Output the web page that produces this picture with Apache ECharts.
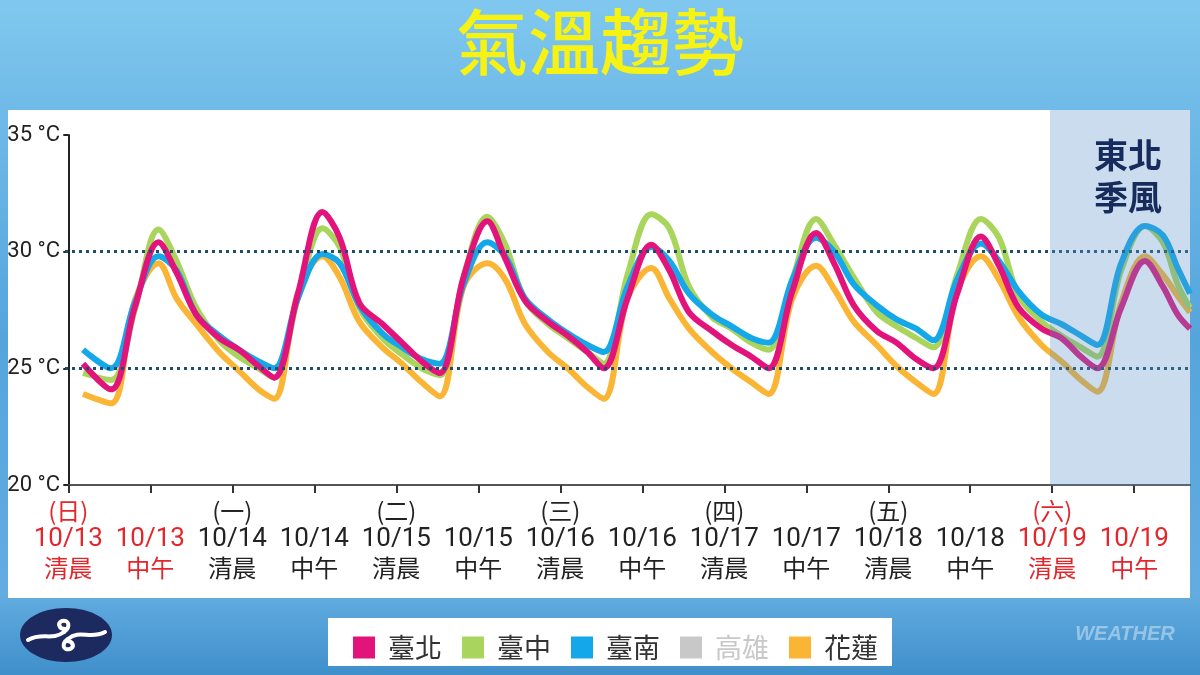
<!DOCTYPE html>
<html>
<head>
<meta charset="utf-8">
<script src="https://cdn.jsdelivr.net/npm/echarts@6/dist/echarts.min.js"></script>
<style>
html,body{margin:0;padding:0;width:1200px;height:675px;overflow:hidden;}
#chart{width:1200px;height:675px;}
</style>
</head>
<body>
<div id="chart"></div>
<script>
// ---- data ----
const weekdays = ['(日)','','(一)','','(二)','','(三)','','(四)','','(五)','','(六)',''];
const dates = ['10/13','10/13','10/14','10/14','10/15','10/15','10/16','10/16','10/17','10/17','10/18','10/18','10/19','10/19'];
const periods = ['清晨','中午','清晨','中午','清晨','中午','清晨','中午','清晨','中午','清晨','中午','清晨','中午'];
const redTicks = [0,1,12,13];
const yTicks = [20,25,30,35];
const refLines = [25,30];

// time positions (in tick units)
const xs = [0.18,
 0.52,0.81,1.10,1.32,1.56,1.84,2.08,2.32,
 2.51,2.80,3.10,3.31,3.55,3.83,4.07,4.31,
 4.53,4.82,5.11,5.33,5.57,5.85,6.09,6.33,
 6.53,6.82,7.11,7.33,7.57,7.85,8.09,8.33,
 8.54,8.83,9.12,9.34,9.58,9.86,10.10,10.34,
 10.55,10.84,11.13,11.35,11.59,11.87,12.11,12.35,
 12.55,12.84,13.13,13.35,13.53,13.68];

const taipei = [25.2,
 24.1,27.6,30.4,29.1,27.3,26.3,25.8,25.1,
 24.6,28.2,31.7,30.6,27.8,26.9,26.1,25.3,
 24.8,28.9,31.3,29.7,27.9,27.0,26.4,25.7,
 25.0,28.0,30.3,29.2,27.4,26.6,26.0,25.5,
 25.0,28.3,30.8,29.5,27.7,26.6,26.1,25.4,
 25.0,28.2,30.65,29.4,27.6,26.7,26.3,25.5,
 25.0,27.6,29.6,28.5,27.3,26.7];

const taichung = [24.8,
 24.5,27.5,30.95,29.6,27.6,26.2,25.5,25.0,
 24.6,28.0,31.0,30.2,27.6,26.3,25.6,25.0,
 24.7,28.9,31.5,30.3,27.9,26.9,26.3,25.7,
 25.2,29.0,31.6,31.0,28.5,27.2,26.7,26.1,
 25.8,28.8,31.4,30.3,28.9,27.4,26.8,26.3,
 25.9,29.0,31.4,30.6,28.1,27.0,26.4,25.9,
 25.5,29.2,31.1,30.4,28.6,27.6];

const tainan = [25.8,
 25.0,27.8,29.8,29.2,27.3,26.4,25.8,25.3,
 25.0,28.0,29.9,29.5,27.7,26.5,25.9,25.4,
 25.2,28.6,30.4,29.8,28.0,27.1,26.5,26.0,
 25.7,28.5,30.2,29.6,28.2,27.3,26.8,26.3,
 26.1,28.8,30.6,30.0,28.6,27.7,27.1,26.7,
 26.2,28.8,30.35,29.6,28.3,27.3,26.9,26.4,
 26.0,29.5,31.1,30.7,29.3,28.2];

const kaohsiung = []; // hidden in the original legend

const hualien = [23.9,
 23.5,27.9,29.5,28.0,26.9,25.7,24.9,24.1,
 23.7,28.2,29.8,28.9,27.0,25.9,25.2,24.4,
 23.8,28.5,29.5,28.8,26.9,25.7,25.0,24.2,
 23.7,28.0,29.3,28.0,26.7,25.7,25.0,24.4,
 23.9,28.0,29.4,28.4,27.0,26.0,25.1,24.4,
 23.9,28.3,29.8,28.8,27.2,26.0,25.3,24.5,
 24.0,27.8,29.8,29.0,28.1,27.4];

const seriesNames = ['臺北','臺中','臺南','高雄','花蓮'];
const colors = {'臺北':'#e2137b','臺中':'#a9d55c','臺南':'#14a8ea','高雄':'#c8c8c8','花蓮':'#fbb535'};

// ---- chart ----
const NARROW = "Roboto,'Liberation Sans',sans-serif";
const CJK = "'Noto Sans CJK TC','Noto Sans CJK SC',sans-serif";
const tickIdx = dates.map((d,i)=>i);

function pts(vals){ return vals.map((v,i)=>[xs[i], v]); }
function lineSeries(name, vals, extra){
  return Object.assign({
    name, type:'line', data:pts(vals), showSymbol:false, smooth:0.35,
    lineStyle:{width:6, color:colors[name]}, itemStyle:{color:colors[name]},
    emphasis:{disabled:true}, silent:true
  }, extra||{});
}

function xLabel(v){
  const i = Math.round(v);
  const s = redTicks.includes(i) ? 'R' : 'K';
  const wd = weekdays[i] || ' ';
  return '{d'+s+'|'+wd+'}\n{n'+s+'|'+dates[i]+'}\n{p'+s+'|'+periods[i]+'}';
}
const LH = 28.5;
const RED = '#e3262b', BLK = '#222';

function bez(x1,y1,cpx1,cpy1,cpx2,cpy2,x2,y2){
  return {type:'bezierCurve',z:102,silent:true,shape:{x1,y1,cpx1,cpy1,cpx2,cpy2,x2,y2},
    style:{fill:null,stroke:'#ffffff',lineWidth:4,lineCap:'round'}};
}

const chart = echarts.init(document.getElementById('chart'));
chart.setOption({
  animation:false,
  backgroundColor:{type:'linear',x:0,y:0,x2:0,y2:1,colorStops:[
    {offset:0,color:'#80c8ef'},{offset:0.15,color:'#70bbe8'},
    {offset:0.5,color:'#55a5dc'},{offset:0.88,color:'#62ace0'},{offset:1,color:'#3f8fcb'}]},
  grid:{left:65,right:10,top:135,bottom:190,containLabel:false,outerBoundsMode:'none'},
  xAxis:{
    type:'value', min:-0.04, max:13.68,
    axisLine:{show:true,lineStyle:{color:'#555',width:2}},
    axisTick:{show:true,customValues:tickIdx,length:8,lineStyle:{color:'#333',width:2}},
    axisLabel:{customValues:tickIdx,formatter:xLabel,margin:12,
      rich:{
        dK:{fontFamily:CJK,fontSize:24,color:BLK,lineHeight:LH},
        nK:{fontFamily:NARROW,fontSize:26,color:BLK,lineHeight:LH},
        pK:{fontFamily:CJK,fontSize:24,color:BLK,lineHeight:LH},
        dR:{fontFamily:CJK,fontSize:24,color:RED,lineHeight:LH},
        nR:{fontFamily:NARROW,fontSize:26,color:RED,lineHeight:LH},
        pR:{fontFamily:CJK,fontSize:24,color:RED,lineHeight:LH}
      }},
    splitLine:{show:false}
  },
  yAxis:{
    type:'value', min:yTicks[0], max:yTicks[yTicks.length-1], interval:5,
    axisLine:{show:true,lineStyle:{color:'#222',width:2}},
    axisTick:{show:true,length:5,lineStyle:{color:'#222',width:2}},
    axisLabel:{formatter:'{value} °C',fontFamily:NARROW,fontSize:22,color:'#222',margin:5},
    splitLine:{show:false}
  },
  legend:{
    data:seriesNames, left:348, top:629, itemWidth:22, itemHeight:22, itemGap:20, icon:'rect',
    textStyle:{fontFamily:CJK,fontSize:27,color:'#333',padding:[0,0,0,8]},
    inactiveColor:'#c8c8c8', selected:{'高雄':false}, selectedMode:false
  },
  series:[
    lineSeries('花蓮', hualien, {markLine:{silent:true,symbol:['none','none'],label:{show:false},
      lineStyle:{color:'#1d4e6b',width:3,type:[3,4]},
      data:refLines.map(v=>({yAxis:v}))}}),
    lineSeries('高雄', kaohsiung),
    lineSeries('臺中', taichung),
    lineSeries('臺南', tainan),
    lineSeries('臺北', taipei)
  ],
  graphic:[
    {type:'rect',z:-10,silent:true,shape:{x:8,y:110,width:1182,height:488},style:{fill:'#ffffff'}},
    {type:'rect',z:-10,silent:true,shape:{x:328,y:618,width:564,height:48},style:{fill:'#ffffff'}},
    {type:'rect',z:100,silent:true,shape:{x:1050,y:110,width:140,height:376},style:{fill:'rgba(90,145,200,0.32)'}},
    {type:'text',z:101,silent:true,style:{text:'東北\n季風',x:1128,y:134,textAlign:'center',
      font:"bold 34px 'Noto Sans CJK TC'",fill:'#172c5c',lineHeight:42}},
    {type:'text',z:101,silent:true,style:{text:'氣溫趨勢',x:600,y:42,textAlign:'center',textVerticalAlign:'middle',
      font:"500 72px 'Noto Sans CJK TC'",fill:'#f6f213'}},
    {type:'ellipse',z:101,silent:true,shape:{cx:66,cy:635,rx:46,ry:27},style:{fill:'#1c2a5f'}},
    bez(28,640, 42,632, 52,641, 64,632),
    bez(64,632, 71,627, 69,619, 62,621),
    bez(62,621, 57,623, 59,629, 65,629),
    bez(105,632, 90,640, 80,629, 68,639),
    bez(68,639, 61,644, 63,651, 70,649),
    bez(70,649, 75,647, 73,641, 67,641),
    {type:'text',z:101,silent:true,style:{text:'WEATHER',x:1125,y:634,textAlign:'center',textVerticalAlign:'middle',
      font:"italic bold 20px 'Liberation Sans', sans-serif",fill:'rgba(255,255,255,0.4)'}}
  ]
});
</script>
</body>
</html>
